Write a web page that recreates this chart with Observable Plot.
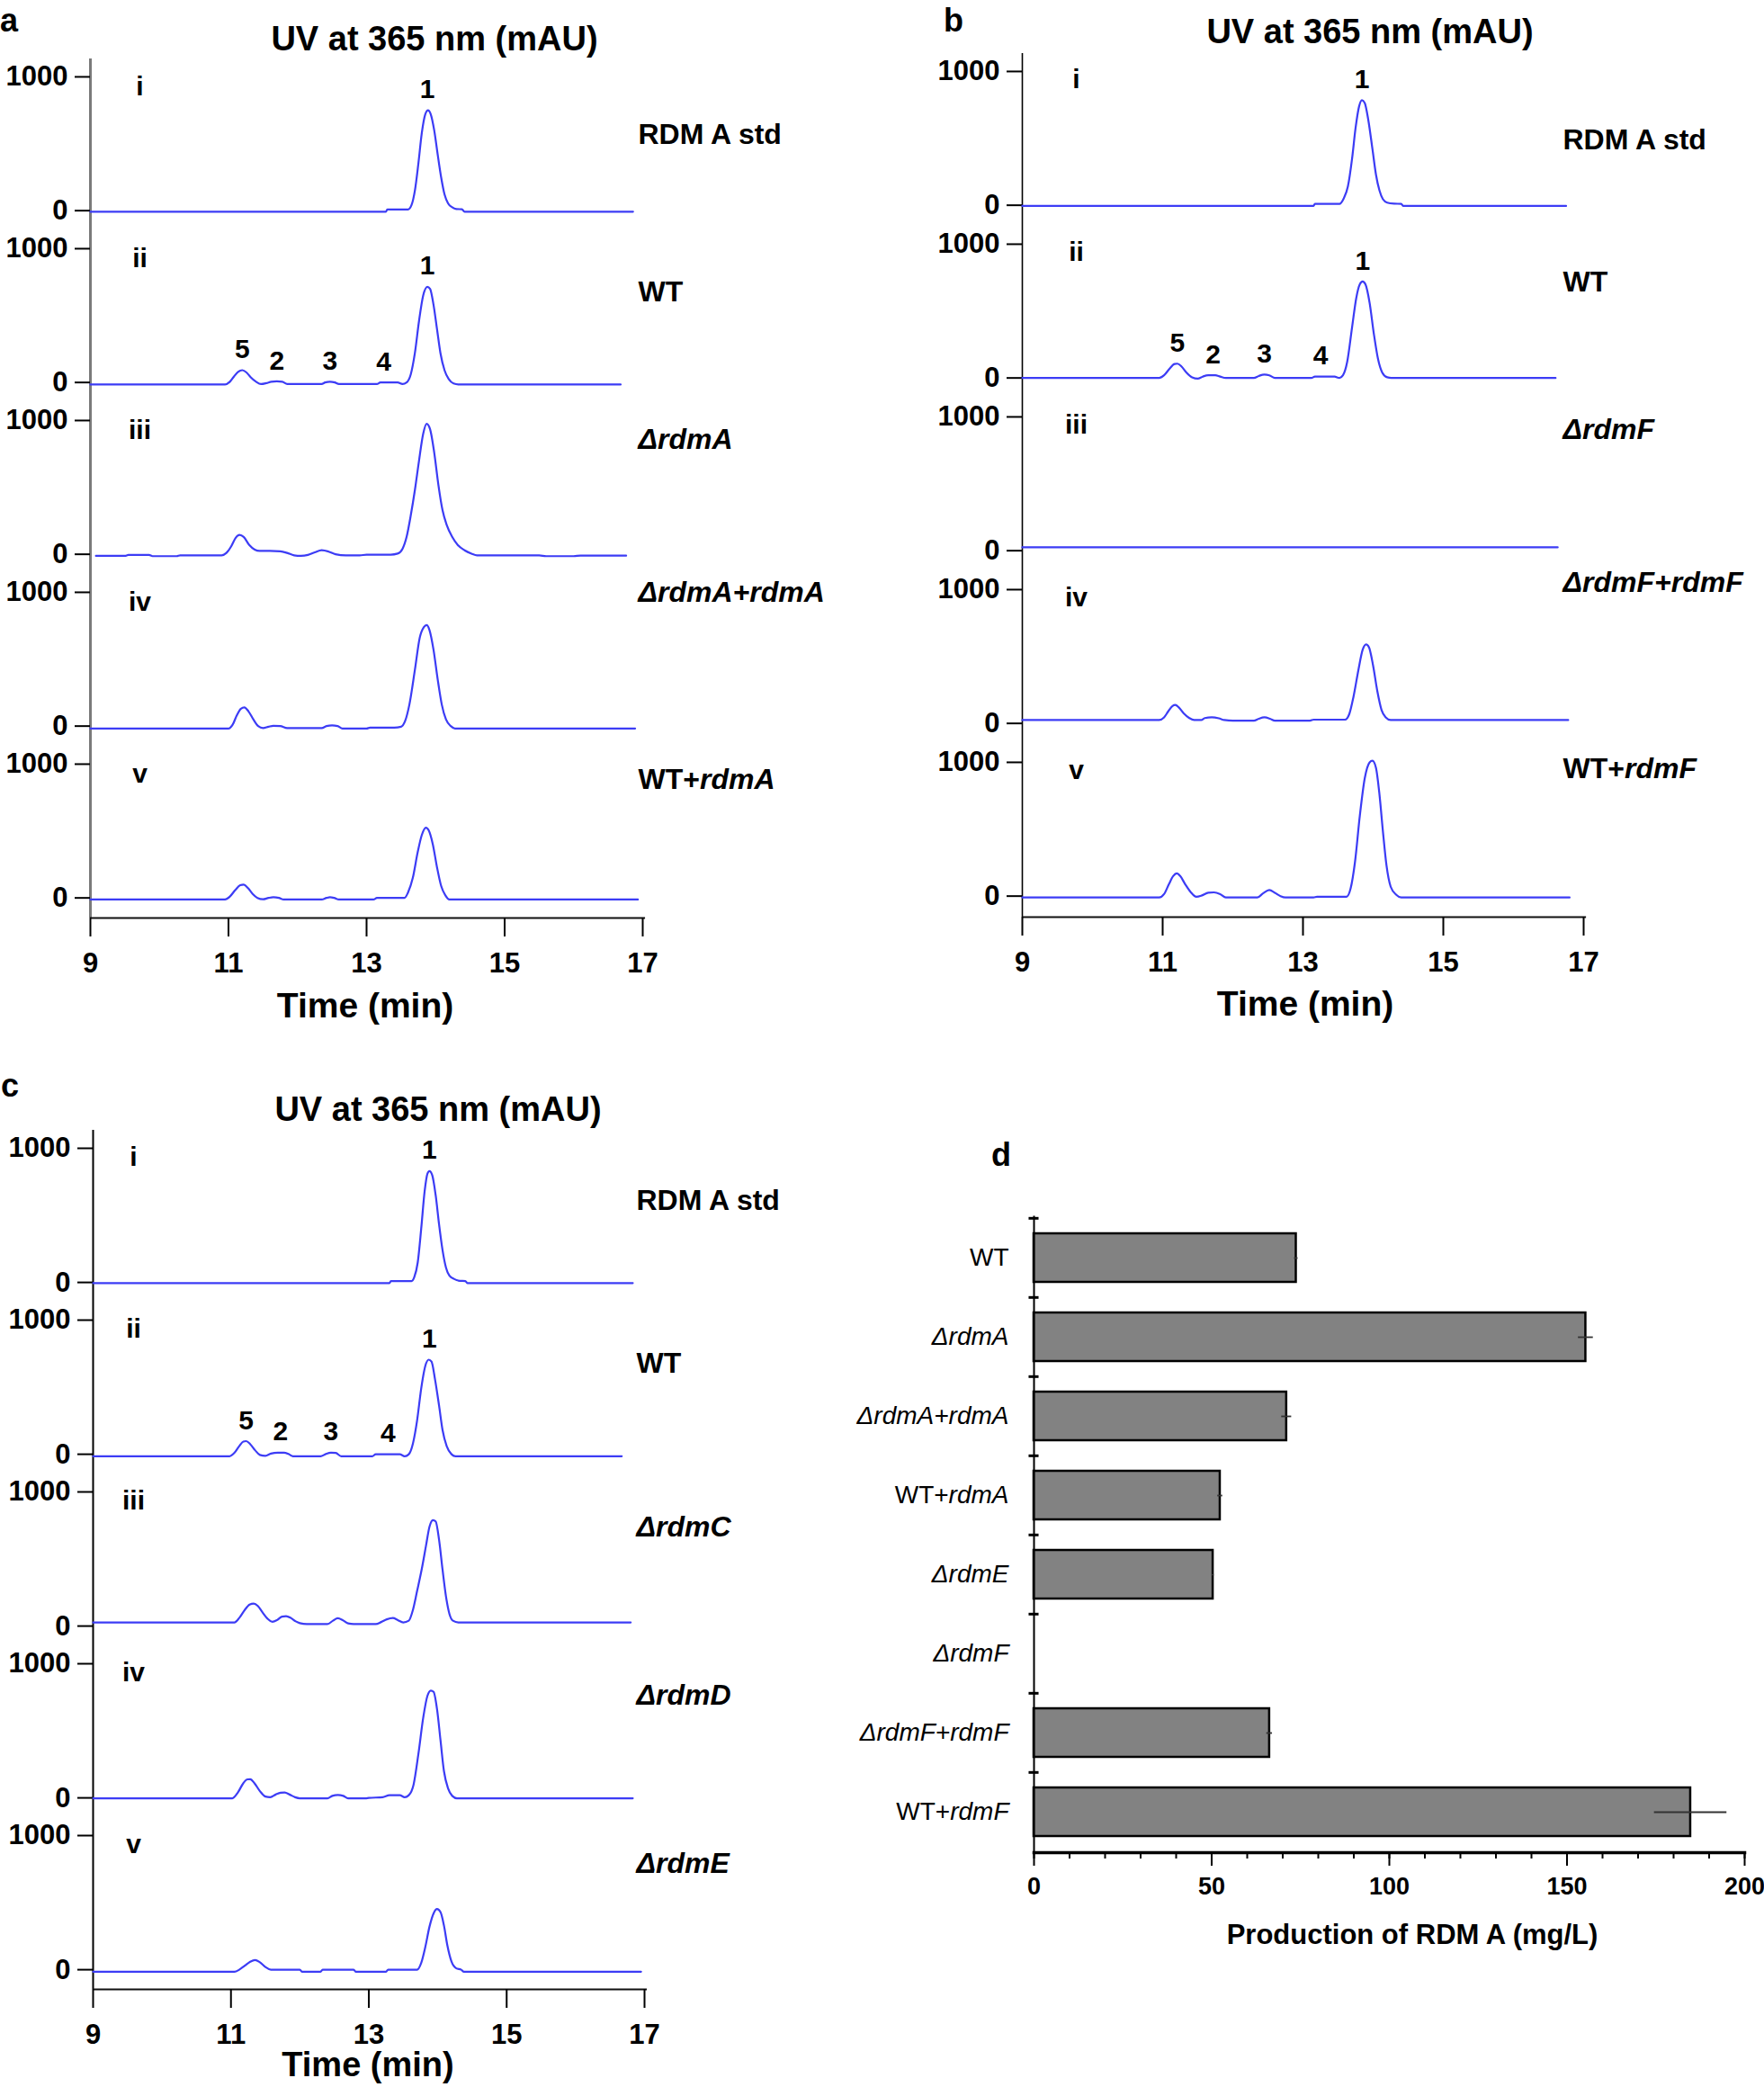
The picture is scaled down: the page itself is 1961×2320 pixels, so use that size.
<!DOCTYPE html>
<html><head><meta charset="utf-8">
<script src="https://cdn.jsdelivr.net/npm/d3@7"></script>
<script src="https://cdn.jsdelivr.net/npm/@observablehq/plot@0.6"></script>
<style>
body{margin:0;background:#fff;}
#page{position:relative;width:1961px;height:2320px;overflow:hidden;background:#fff;font-family:'Liberation Sans',Arial,Helvetica,sans-serif;}
.lbl{position:absolute;white-space:nowrap;line-height:1;font-weight:bold;color:#000;}
#page svg{position:absolute;}
</style></head><body><div id="page"></div>
<script>
// ---------------- DATA ----------------
const romans = ["i","ii","iii","iv","v"];
const timeTicks = [9,11,13,15,17];
const mauTicks = [0,1000];

const strainsA = ["RDM A std","WT","<i>ΔrdmA</i>","<i>ΔrdmA+rdmA</i>","WT+<i>rdmA</i>"];
const strainsB = ["RDM A std","WT","<i>ΔrdmF</i>","<i>ΔrdmF+rdmF</i>","WT+<i>rdmF</i>"];
const strainsC = ["RDM A std","WT","<i>ΔrdmC</i>","<i>ΔrdmD</i>","<i>ΔrdmE</i>"];

// chromatograms: [time (min), UV 365 nm (mAU)]
const traceA_i = [[9.0,-8],[13.28,-8],[13.3,8],[13.6,8],[13.65,40],[13.7,150],[13.75,350],[13.8,580],[13.85,720],[13.89,750],[13.93,720],[13.98,600],[14.03,420],[14.08,250],[14.13,120],[14.18,55],[14.24,25],[14.3,12],[14.38,10],[14.42,-8],[16.86,-8]];
const traceA_ii = [[9.0,-15],[10.95,-15],[11.02,5],[11.08,45],[11.14,80],[11.2,92],[11.26,75],[11.32,40],[11.4,5],[11.47,-12],[11.55,-5],[11.62,5],[11.7,8],[11.78,5],[11.85,-12],[12.35,-12],[12.4,0],[12.47,5],[12.54,0],[12.6,-12],[13.15,-12],[13.2,0],[13.45,0],[13.52,-12],[13.58,0],[13.64,60],[13.7,220],[13.76,460],[13.82,650],[13.88,715],[13.92,700],[13.97,580],[14.02,400],[14.07,220],[14.13,90],[14.19,25],[14.26,-8],[14.33,-15],[16.68,-15]];
const traceA_iii = [[9.08,-12],[9.5,-12],[9.55,-5],[9.85,-5],[9.9,-14],[10.25,-14],[10.3,-8],[10.9,-8],[10.97,10],[11.04,60],[11.1,120],[11.16,145],[11.22,130],[11.3,70],[11.38,35],[11.45,25],[11.6,25],[11.75,22],[11.85,10],[11.95,-8],[12.05,-12],[12.15,-5],[12.25,15],[12.35,30],[12.45,20],[12.55,0],[12.7,-8],[12.9,-8],[13.0,-3],[13.35,-3],[13.45,5],[13.52,40],[13.58,130],[13.64,290],[13.7,480],[13.76,700],[13.82,900],[13.87,975],[13.92,935],[13.98,760],[14.04,520],[14.1,330],[14.16,220],[14.24,130],[14.32,70],[14.42,30],[14.52,5],[14.6,-8],[15.5,-8],[15.6,-14],[16.0,-14],[16.1,-10],[16.76,-10]];
const traceA_iv = [[9.0,-18],[11.0,-18],[11.06,10],[11.12,80],[11.18,130],[11.23,140],[11.29,110],[11.36,50],[11.43,0],[11.5,-15],[11.58,-5],[11.65,2],[11.75,0],[11.85,-15],[12.35,-15],[12.42,0],[12.5,5],[12.58,0],[12.65,-18],[13.0,-18],[13.05,-12],[13.4,-12],[13.5,-5],[13.56,40],[13.62,160],[13.7,420],[13.77,660],[13.83,740],[13.87,755],[13.91,720],[13.97,570],[14.03,350],[14.09,160],[14.15,50],[14.22,0],[14.28,-18],[16.89,-18]];
const traceA_v = [[9.0,-12],[10.95,-12],[11.02,10],[11.1,60],[11.17,95],[11.22,100],[11.28,75],[11.35,30],[11.42,0],[11.5,-10],[11.58,0],[11.65,5],[11.73,0],[11.8,-12],[12.35,-12],[12.42,0],[12.47,5],[12.53,0],[12.6,-12],[13.1,-12],[13.15,0],[13.55,0],[13.6,40],[13.67,150],[13.74,340],[13.8,470],[13.86,525],[13.9,505],[13.96,400],[14.02,230],[14.08,90],[14.14,20],[14.2,-12],[16.93,-12]];

const traceB_i = [[9.0,-5],[13.15,-5],[13.17,10],[13.52,10],[13.58,50],[13.64,140],[13.7,350],[13.75,580],[13.8,740],[13.84,785],[13.88,765],[13.93,640],[13.99,420],[14.04,230],[14.09,110],[14.14,45],[14.2,20],[14.3,12],[14.4,10],[14.43,-5],[16.75,-5]];
const traceB_ii = [[9.0,0],[10.95,0],[11.02,20],[11.1,70],[11.17,105],[11.21,107],[11.27,85],[11.34,40],[11.42,5],[11.5,-5],[11.57,10],[11.65,20],[11.75,20],[11.82,10],[11.9,0],[12.3,0],[12.37,15],[12.45,25],[12.52,20],[12.6,0],[13.12,0],[13.17,10],[13.45,10],[13.52,0],[13.57,20],[13.63,120],[13.7,380],[13.76,600],[13.81,700],[13.85,721],[13.89,700],[13.95,560],[14.01,330],[14.07,140],[14.13,40],[14.2,5],[14.26,0],[16.6,0]];
const traceB_iii = [[9.0,25],[16.63,25]];
const traceB_iv = [[9.0,25],[10.95,25],[11.02,45],[11.08,90],[11.14,130],[11.18,138],[11.23,120],[11.3,75],[11.38,40],[11.45,25],[11.55,25],[11.6,40],[11.7,45],[11.8,38],[11.88,25],[12.0,20],[12.3,20],[12.37,35],[12.45,45],[12.53,35],[12.6,20],[13.1,20],[13.15,28],[13.6,28],[13.66,70],[13.72,200],[13.79,400],[13.85,550],[13.9,590],[13.94,570],[14.0,430],[14.06,240],[14.12,100],[14.18,45],[14.25,25],[16.78,25]];
const traceB_v = [[9.0,-10],[10.95,-10],[11.02,15],[11.09,90],[11.15,150],[11.2,170],[11.25,150],[11.32,90],[11.4,30],[11.48,-5],[11.56,5],[11.65,25],[11.73,28],[11.82,15],[11.9,-10],[12.35,-10],[12.43,20],[12.52,45],[12.6,25],[12.68,0],[12.75,-10],[13.15,-10],[13.2,-5],[13.62,-5],[13.68,60],[13.74,250],[13.81,600],[13.88,880],[13.95,1000],[13.99,1012],[14.04,960],[14.09,760],[14.14,480],[14.19,230],[14.25,70],[14.33,10],[14.4,-10],[16.8,-10]];

const traceC_i = [[9.0,-5],[13.3,-5],[13.32,10],[13.62,10],[13.66,40],[13.71,150],[13.76,400],[13.81,680],[13.85,810],[13.88,830],[13.92,800],[13.97,650],[14.02,430],[14.07,240],[14.12,110],[14.17,50],[14.24,25],[14.32,12],[14.4,10],[14.43,-5],[16.83,-5]];
const traceC_ii = [[9.0,-15],[10.98,-15],[11.05,10],[11.12,60],[11.18,95],[11.22,98],[11.28,75],[11.35,30],[11.42,-5],[11.5,-12],[11.58,5],[11.68,12],[11.77,12],[11.84,0],[11.9,-15],[12.3,-15],[12.37,0],[12.45,12],[12.52,10],[12.6,-15],[13.05,-15],[13.1,0],[13.45,0],[13.52,-15],[13.58,0],[13.64,80],[13.7,250],[13.76,490],[13.82,660],[13.87,705],[13.91,690],[13.96,560],[14.02,360],[14.07,180],[14.13,60],[14.2,0],[14.26,-15],[16.67,-15]];
const traceC_iii = [[9.0,27],[11.05,27],[11.12,60],[11.2,120],[11.27,160],[11.33,168],[11.39,150],[11.46,100],[11.53,55],[11.6,32],[11.67,45],[11.74,70],[11.8,74],[11.87,60],[11.94,35],[12.0,22],[12.1,15],[12.4,15],[12.48,40],[12.55,58],[12.62,45],[12.7,20],[12.78,15],[13.1,15],[13.18,30],[13.26,50],[13.35,60],[13.42,45],[13.5,27],[13.58,40],[13.64,120],[13.7,260],[13.77,430],[13.83,600],[13.88,740],[13.93,790],[13.97,780],[14.02,640],[14.07,420],[14.12,220],[14.17,90],[14.22,40],[14.3,27],[16.8,27]];
const traceC_iv = [[9.0,-3],[11.02,-3],[11.1,40],[11.18,110],[11.24,138],[11.28,139],[11.34,110],[11.42,50],[11.5,10],[11.57,5],[11.65,25],[11.72,38],[11.78,40],[11.85,25],[11.93,5],[12.0,-3],[12.4,-3],[12.47,15],[12.55,22],[12.63,15],[12.7,-3],[12.95,-3],[13.0,0],[13.2,5],[13.3,20],[13.45,20],[13.52,5],[13.58,20],[13.65,100],[13.72,330],[13.79,600],[13.85,760],[13.9,800],[13.94,790],[13.99,660],[14.04,430],[14.09,200],[14.15,70],[14.21,15],[14.28,-3],[16.83,-3]];
const traceC_v = [[9.0,-15],[11.05,-15],[11.12,0],[11.2,30],[11.28,60],[11.35,72],[11.42,55],[11.5,20],[11.58,0],[11.65,0],[12.0,0],[12.03,-15],[12.3,-15],[12.33,0],[12.78,0],[12.81,-15],[13.25,-15],[13.28,0],[13.7,0],[13.76,50],[13.82,170],[13.88,320],[13.94,420],[13.99,452],[14.04,430],[14.09,330],[14.14,180],[14.2,60],[14.27,10],[14.34,0],[14.38,-15],[16.95,-15]];

// peak labels: [trace, label, time, apex mAU]
const peaksA = [["i","1",13.88,750],["ii","1",13.88,715],["ii","5",11.2,92],["ii","2",11.7,8],["ii","3",12.47,5],["ii","4",13.25,0]];
const peaksB = [["i","1",13.84,785],["ii","1",13.85,721],["ii","5",11.21,107],["ii","2",11.72,20],["ii","3",12.45,25],["ii","4",13.25,10]];
const peaksC = [["i","1",13.88,830],["ii","1",13.88,705],["ii","5",11.22,98],["ii","2",11.72,12],["ii","3",12.45,12],["ii","4",13.28,0]];

// panel d
const strainsD = ["WT","<i>ΔrdmA</i>","<i>ΔrdmA+rdmA</i>","WT+<i>rdmA</i>","<i>ΔrdmE</i>","<i>ΔrdmF</i>","<i>ΔrdmF+rdmF</i>","WT+<i>rdmF</i>"];
const productionD = [73.8,155.3,71.1,52.4,50.4,0,66.3,184.8];
const errorD = [0.5,2.1,1.4,0.7,0.3,0,0.8,10.2];
const majorTicksD = [0,50,100,150,200];
const minorTicksD = [0,10,20,30,40,50,60,70,80,90,100,110,120,130,140,150,160,170,180,190,200];

// ---------------- RENDER ----------------
const FONT = "'Liberation Sans', Arial, Helvetica, sans-serif";
const LINE = "#3c3cf5";
const page = document.getElementById("page");

function richify(svg) {
  d3.select(svg).selectAll("text").each(function() {
    const t = this.textContent;
    if (!t.includes("<i>")) return;
    const parts = t.split(/(<i>.*?<\/i>)/).filter(p => p);
    while (this.firstChild) this.removeChild(this.firstChild);
    for (const p of parts) {
      const ts = document.createElementNS("http://www.w3.org/2000/svg", "tspan");
      if (p.startsWith("<i>")) { ts.textContent = p.slice(3, -4); ts.setAttribute("font-style", "italic"); }
      else ts.textContent = p;
      this.appendChild(ts);
    }
  });
}

function place(svg, left, top) {
  svg.style.left = left + "px";
  svg.style.top = top + "px";
  page.appendChild(svg);
  richify(svg);
}

function html(text, {x, top, size, anchor = "start", weight = "bold"}) {
  const d = document.createElement("div");
  d.className = "lbl";
  d.innerHTML = text;
  d.style.fontSize = size + "px";
  d.style.fontWeight = weight;
  d.style.top = top + "px";
  d.style.left = x + "px";
  if (anchor === "middle") d.style.transform = "translateX(-50%)";
  page.appendChild(d);
}

function chromPanel(c) {
  const rows = [];
  c.traces.forEach((tr, k) => tr.forEach(([t, v]) => rows.push({k: romans[k], t, v})));
  const inner = c.height - c.mt - c.mb;
  const P = inner / 5;
  const yTop = 1000 + 20 / 0.1491;
  const yDom = [yTop - P / 0.1491, yTop];
  const marks = [
    Plot.ruleX([9], {stroke: c.axisColor, strokeWidth: c.axisWidth}),
    Plot.ruleY([{k: "v"}], {fy: "k", y: yDom[0], x1: 9, x2: 17.04, stroke: "#111", strokeWidth: 2}),
    Plot.axisY({ticks: mauTicks, tickSize: 17, tickPadding: 8, tickFormat: d => String(d), label: null, fontSize: 31, strokeWidth: 2}),
    Plot.axisX({ticks: timeTicks, tickSize: 21, tickPadding: 17, tickFormat: d => String(d), label: null, fontSize: 31, strokeWidth: 2}),
    Plot.line(rows, {x: "t", y: "v", fy: "k", stroke: LINE, strokeWidth: 2.2, curve: "monotone-x"}),
    Plot.text(romans.map(r => ({k: r, s: r})), {fy: "k", text: "s", frameAnchor: "top-left", dx: c.romanDx, dy: c.romanDy, textAnchor: "middle", lineAnchor: "middle", fontSize: 30}),
    ...c.strains.map((s, k) => Plot.text([{k: romans[k], s}], {fy: "k", text: "s", frameAnchor: "top-right", textAnchor: "start", lineAnchor: "middle", dx: c.strainDx, dy: c.strainDys[k], fontSize: 32})),
    Plot.text(c.peaks.map(([k, s, t, v]) => ({k, s, t, v})), {fy: "k", x: "t", y: "v", text: "s", dy: -23, lineAnchor: "middle", fontSize: 30})
  ];
  const svg = Plot.plot({
    width: c.width, height: c.height,
    marginTop: c.mt, marginBottom: c.mb, marginLeft: c.ml, marginRight: c.mr,
    x: {domain: [9, 17]},
    y: {domain: yDom},
    fy: {domain: romans, padding: 0, axis: null},
    style: {fontFamily: FONT, fontSize: "31px", fontWeight: "bold", color: "#000", background: "transparent", overflow: "visible"},
    marks
  });
  place(svg, c.left, c.top);
}

chromPanel({traces: [traceA_i, traceA_ii, traceA_iii, traceA_iv, traceA_v], strains: strainsA, peaks: peaksA,
  left: 0, top: 0, width: 980, height: 1150, mt: 64, mb: 128.5, ml: 100, mr: 266,
  axisColor: "#7a7a7a", axisWidth: 3, romanDx: 55, romanDy: 31, strainDx: -5, strainDys: [84, 68, 41, 20, 37]});

chromPanel({traces: [traceB_i, traceB_ii, traceB_iii, traceB_iv, traceB_v], strains: strainsB, peaks: peaksB,
  left: 980, top: 0, width: 981, height: 1150, mt: 58, mb: 129.5, ml: 156, mr: 201,
  axisColor: "#000", axisWidth: 1.6, romanDx: 60, romanDy: 29, strainDx: -23, strainDys: [96, 62, 34, 12, 27]});

chromPanel({traces: [traceC_i, traceC_ii, traceC_iii, traceC_iv, traceC_v], strains: strainsC, peaks: peaksC,
  left: 0, top: 1190, width: 980, height: 1130, mt: 66, mb: 109, ml: 103, mr: 264,
  axisColor: "#000", axisWidth: 2, romanDx: 45, romanDy: 30, strainDx: -9, strainDys: [78, 68, 59, 55, 51]});

// panel d
{
  const rows = strainsD.map((s, i) => ({s, v: productionD[i], e: errorD[i]}));
  const withBar = rows.filter(d => d.v > 0);
  const step = 707 / strainsD.length;
  const svg = Plot.plot({
    width: 981, height: 940, marginTop: 92, marginBottom: 141, marginLeft: 169, marginRight: 22,
    x: {domain: [0, 200]},
    y: {domain: strainsD, paddingInner: 0.39, paddingOuter: 0.195},
    style: {fontFamily: FONT, fontSize: "26px", fontWeight: "bold", color: "#000", background: "transparent", overflow: "visible"},
    marks: [
      Plot.barX(withBar, {x: "v", y: "s", fill: "#828282", stroke: "#000", strokeWidth: 2.5}),
      Plot.ruleY(withBar, {y: "s", x1: d => d.v - d.e, x2: d => d.v + d.e, stroke: "#333", strokeWidth: 1.8}),
      Plot.ruleX(withBar, {x: d => d.v - d.e, y: "s", insetTop: 19, insetBottom: 19, stroke: "#222", strokeWidth: 1.8}),
      Plot.ruleX(withBar, {x: d => d.v + d.e, y: "s", insetTop: 19, insetBottom: 19, stroke: "#222", strokeWidth: 1.8}),
      Plot.frame({anchor: "left", strokeWidth: 2}),
      Plot.frame({anchor: "bottom", strokeWidth: 3.5}),
      Plot.ruleY(strainsD, {y: d => d, x1: -1.4, x2: 1.4, dy: -step / 2, strokeWidth: 3}),
      Plot.axisY({tickSize: 0, tickPadding: 28, fontSize: 28, fontWeight: "normal", label: null}),
      Plot.axisX({ticks: majorTicksD, tickSize: 15, tickPadding: 12, tickFormat: d => String(d), fontSize: 27, label: null, strokeWidth: 2}),
      Plot.axisX({ticks: minorTicksD, tickSize: 7, text: null, label: null, strokeWidth: 2})
    ]
  });
  place(svg, 980, 1260);
}

// titles, panel letters and axis titles
html("UV at 365 nm (mAU)", {x: 483, top: 24, size: 38, anchor: "middle"});
html("UV at 365 nm (mAU)", {x: 1523, top: 16, size: 38, anchor: "middle"});
html("UV at 365 nm (mAU)", {x: 487, top: 1214, size: 38, anchor: "middle"});
html("a", {x: 0, top: 5, size: 36});
html("b", {x: 1049, top: 5, size: 36});
html("c", {x: 1, top: 1189, size: 36});
html("d", {x: 1102, top: 1266, size: 36});
html("Time (min)", {x: 406, top: 1098, size: 39, anchor: "middle"});
html("Time (min)", {x: 1451, top: 1096, size: 39, anchor: "middle"});
html("Time (min)", {x: 409, top: 2276, size: 38, anchor: "middle"});
html("Production of RDM A (mg/L)", {x: 1570, top: 2135, size: 31, anchor: "middle"});
</script></body></html>
